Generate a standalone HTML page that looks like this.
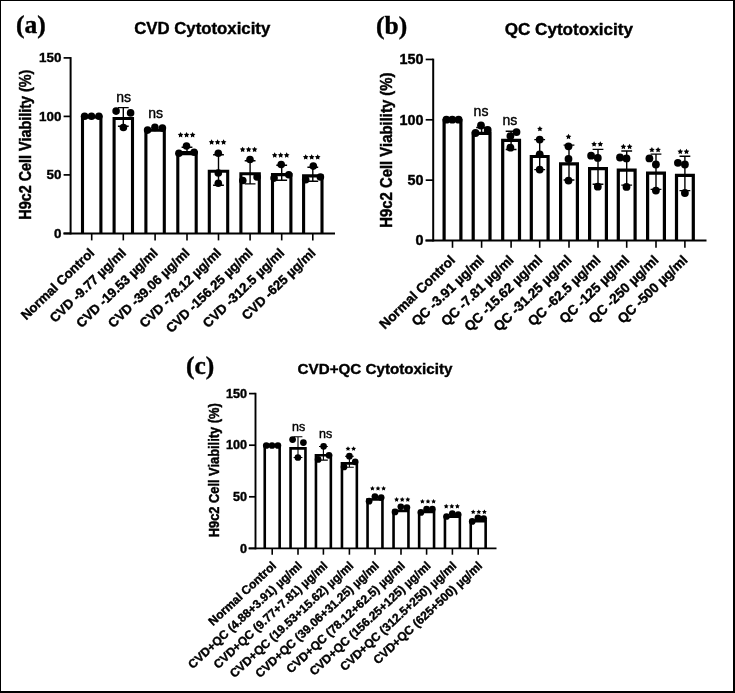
<!DOCTYPE html>
<html><head><meta charset="utf-8"><style>
html,body{margin:0;padding:0;background:#fff;}
#fig{position:relative;width:735px;height:693px;box-sizing:border-box;border-style:solid;border-color:#000;border-width:1px 2px 2px 1px;overflow:hidden;background:#fff;}
svg{position:absolute;left:-1px;top:-1px;will-change:transform;}
text{font-family:"Liberation Sans", sans-serif;fill:#000;stroke:#000;stroke-width:0.4px;}
</style></head><body><div id="fig"><svg width="735" height="693" viewBox="0 0 735 693">
<path d="M82.5 233.4V117H100.9V233.4" fill="#fff" stroke="#000" stroke-width="3.1" stroke-linejoin="miter"/>
<line x1="91.7" y1="233.4" x2="91.7" y2="240.4" stroke="#000" stroke-width="1.6"/>
<path d="M114.1 233.4V118.5H132.5V233.4" fill="#fff" stroke="#000" stroke-width="3.1" stroke-linejoin="miter"/>
<line x1="123.3" y1="233.4" x2="123.3" y2="240.4" stroke="#000" stroke-width="1.6"/>
<path d="M145.9 233.4V130.3H164.3V233.4" fill="#fff" stroke="#000" stroke-width="3.1" stroke-linejoin="miter"/>
<line x1="155.1" y1="233.4" x2="155.1" y2="240.4" stroke="#000" stroke-width="1.6"/>
<path d="M177.8 233.4V152.6H196.2V233.4" fill="#fff" stroke="#000" stroke-width="3.1" stroke-linejoin="miter"/>
<line x1="187" y1="233.4" x2="187" y2="240.4" stroke="#000" stroke-width="1.6"/>
<path d="M209.3 233.4V171.2H227.7V233.4" fill="#fff" stroke="#000" stroke-width="3.1" stroke-linejoin="miter"/>
<line x1="218.5" y1="233.4" x2="218.5" y2="240.4" stroke="#000" stroke-width="1.6"/>
<path d="M240.9 233.4V173.8H259.3V233.4" fill="#fff" stroke="#000" stroke-width="3.1" stroke-linejoin="miter"/>
<line x1="250.1" y1="233.4" x2="250.1" y2="240.4" stroke="#000" stroke-width="1.6"/>
<path d="M272.5 233.4V174.6H290.9V233.4" fill="#fff" stroke="#000" stroke-width="3.1" stroke-linejoin="miter"/>
<line x1="281.7" y1="233.4" x2="281.7" y2="240.4" stroke="#000" stroke-width="1.6"/>
<path d="M303.6 233.4V175.9H322V233.4" fill="#fff" stroke="#000" stroke-width="3.1" stroke-linejoin="miter"/>
<line x1="312.8" y1="233.4" x2="312.8" y2="240.4" stroke="#000" stroke-width="1.6"/>
<line x1="70.6" y1="234.4" x2="70.6" y2="57.1" stroke="#000" stroke-width="2.0"/>
<line x1="63.5" y1="233.4" x2="335" y2="233.4" stroke="#000" stroke-width="2.0"/>
<line x1="63.6" y1="233.4" x2="70.6" y2="233.4" stroke="#000" stroke-width="1.7"/>
<text x="61.4" y="237.8" text-anchor="end" font-weight="bold" font-size="13.4">0</text>
<line x1="63.6" y1="174.9" x2="70.6" y2="174.9" stroke="#000" stroke-width="1.7"/>
<text x="61.4" y="179.3" text-anchor="end" font-weight="bold" font-size="13.4">50</text>
<line x1="63.6" y1="116.4" x2="70.6" y2="116.4" stroke="#000" stroke-width="1.7"/>
<text x="61.4" y="120.8" text-anchor="end" font-weight="bold" font-size="13.4">100</text>
<line x1="63.6" y1="57.9" x2="70.6" y2="57.9" stroke="#000" stroke-width="1.7"/>
<text x="61.4" y="62.3" text-anchor="end" font-weight="bold" font-size="13.4">150</text>
<circle cx="84.6" cy="116.2" r="3.8"/>
<circle cx="91.5" cy="116.2" r="3.8"/>
<circle cx="98.9" cy="116.2" r="3.8"/>
<path d="M123.3 107.6V126.3M117.9 107.6H128.7M117.9 126.3H128.7" stroke="#000" stroke-width="1.4" fill="none"/>
<circle cx="116.1" cy="111.1" r="3.8"/>
<circle cx="130.6" cy="112.9" r="3.8"/>
<circle cx="123.4" cy="127.5" r="3.8"/>
<circle cx="147.6" cy="130.1" r="3.8"/>
<circle cx="154.9" cy="127.4" r="3.8"/>
<circle cx="162.4" cy="128.1" r="3.8"/>
<path d="M187 147.3V154.6M181.6 147.3H192.4M181.6 154.6H192.4" stroke="#000" stroke-width="1.4" fill="none"/>
<circle cx="178.9" cy="153.2" r="3.8"/>
<circle cx="186.5" cy="146" r="3.8"/>
<circle cx="194.1" cy="152.3" r="3.8"/>
<path d="M218.5 154.7V185.3M213.1 154.7H223.9M213.1 185.3H223.9" stroke="#000" stroke-width="1.4" fill="none"/>
<circle cx="218.3" cy="153.3" r="3.8"/>
<circle cx="218.3" cy="173" r="3.8"/>
<circle cx="218.3" cy="183.3" r="3.8"/>
<path d="M250.1 160.8V183.9M244.7 160.8H255.5M244.7 183.9H255.5" stroke="#000" stroke-width="1.4" fill="none"/>
<circle cx="250" cy="159.5" r="3.8"/>
<circle cx="242.8" cy="180.5" r="3.8"/>
<circle cx="257.1" cy="177" r="3.8"/>
<path d="M281.7 165.2V180.3M276.3 165.2H287.1M276.3 180.3H287.1" stroke="#000" stroke-width="1.4" fill="none"/>
<circle cx="281.2" cy="164.5" r="3.8"/>
<circle cx="274.1" cy="178.1" r="3.8"/>
<circle cx="288.8" cy="174.8" r="3.8"/>
<path d="M312.8 167.2V181.3M307.4 167.2H318.2M307.4 181.3H318.2" stroke="#000" stroke-width="1.4" fill="none"/>
<circle cx="313.3" cy="166.1" r="3.8"/>
<circle cx="305.7" cy="179.7" r="3.8"/>
<circle cx="320.4" cy="177" r="3.8"/>
<text x="123.7" y="102" text-anchor="middle" font-size="14">ns</text>
<text x="155.6" y="117.7" text-anchor="middle" font-size="14">ns</text>
<polygon points="180.6,132.04 181.5,133.75 183.41,134.08 182.06,135.47 182.33,137.38 180.6,136.53 178.87,137.38 179.14,135.47 177.79,134.08 179.7,133.75"/>
<polygon points="186.6,132.04 187.5,133.75 189.41,134.08 188.06,135.47 188.33,137.38 186.6,136.53 184.87,137.38 185.14,135.47 183.79,134.08 185.7,133.75"/>
<polygon points="192.6,132.04 193.5,133.75 195.41,134.08 194.06,135.47 194.33,137.38 192.6,136.53 190.87,137.38 191.14,135.47 189.79,134.08 191.7,133.75"/>
<polygon points="211.6,139.34 212.5,141.05 214.41,141.38 213.06,142.77 213.33,144.68 211.6,143.83 209.87,144.68 210.14,142.77 208.79,141.38 210.7,141.05"/>
<polygon points="217.6,139.34 218.5,141.05 220.41,141.38 219.06,142.77 219.33,144.68 217.6,143.83 215.87,144.68 216.14,142.77 214.79,141.38 216.7,141.05"/>
<polygon points="223.6,139.34 224.5,141.05 226.41,141.38 225.06,142.77 225.33,144.68 223.6,143.83 221.87,144.68 222.14,142.77 220.79,141.38 222.7,141.05"/>
<polygon points="242.6,146.65 243.5,148.35 245.41,148.68 244.06,150.07 244.33,151.98 242.6,151.13 240.87,151.98 241.14,150.07 239.79,148.68 241.7,148.35"/>
<polygon points="248.6,146.65 249.5,148.35 251.41,148.68 250.06,150.07 250.33,151.98 248.6,151.13 246.87,151.98 247.14,150.07 245.79,148.68 247.7,148.35"/>
<polygon points="254.6,146.65 255.5,148.35 257.41,148.68 256.06,150.07 256.33,151.98 254.6,151.13 252.87,151.98 253.14,150.07 251.79,148.68 253.7,148.35"/>
<polygon points="274.7,152.34 275.6,154.05 277.51,154.38 276.16,155.77 276.43,157.68 274.7,156.83 272.97,157.68 273.24,155.77 271.89,154.38 273.8,154.05"/>
<polygon points="280.7,152.34 281.6,154.05 283.51,154.38 282.16,155.77 282.43,157.68 280.7,156.83 278.97,157.68 279.24,155.77 277.89,154.38 279.8,154.05"/>
<polygon points="286.7,152.34 287.6,154.05 289.51,154.38 288.16,155.77 288.43,157.68 286.7,156.83 284.97,157.68 285.24,155.77 283.89,154.38 285.8,154.05"/>
<polygon points="305.7,154.25 306.6,155.95 308.51,156.28 307.16,157.67 307.43,159.58 305.7,158.73 303.97,159.58 304.24,157.67 302.89,156.28 304.8,155.95"/>
<polygon points="311.7,154.25 312.6,155.95 314.51,156.28 313.16,157.67 313.43,159.58 311.7,158.73 309.97,159.58 310.24,157.67 308.89,156.28 310.8,155.95"/>
<polygon points="317.7,154.25 318.6,155.95 320.51,156.28 319.16,157.67 319.43,159.58 317.7,158.73 315.97,159.58 316.24,157.67 314.89,156.28 316.8,155.95"/>
<text transform="translate(95.2 253.9) rotate(-44)" text-anchor="end" font-weight="bold" font-size="13.2">Normal Control</text>
<text transform="translate(126.8 253.9) rotate(-44)" text-anchor="end" font-weight="bold" font-size="13.2">CVD -9.77 µg/ml</text>
<text transform="translate(158.6 253.9) rotate(-44)" text-anchor="end" font-weight="bold" font-size="13.2">CVD -19.53 µg/ml</text>
<text transform="translate(190.5 253.9) rotate(-44)" text-anchor="end" font-weight="bold" font-size="13.2">CVD -39.06 µg/ml</text>
<text transform="translate(222 253.9) rotate(-44)" text-anchor="end" font-weight="bold" font-size="13.2">CVD -78.12 µg/ml</text>
<text transform="translate(253.6 253.9) rotate(-44)" text-anchor="end" font-weight="bold" font-size="13.2">CVD -156.25 µg/ml</text>
<text transform="translate(285.2 253.9) rotate(-44)" text-anchor="end" font-weight="bold" font-size="13.2">CVD -312.5 µg/ml</text>
<text transform="translate(316.3 253.9) rotate(-44)" text-anchor="end" font-weight="bold" font-size="13.2">CVD -625 µg/ml</text>
<text x="202.2" y="34.3" text-anchor="middle" font-weight="bold" font-size="16.8">CVD Cytotoxicity</text>
<text x="16" y="33" style='font-family:"Liberation Serif", serif' font-weight="bold" font-size="25.5">(a)</text>
<text transform="translate(31 144.65) scale(1.1 1) rotate(-90)" text-anchor="middle" font-weight="bold" font-size="14.4">H9c2 Cell Viability (%)</text>
<path d="M444.1 240.5V120.5H460.9V240.5" fill="#fff" stroke="#000" stroke-width="3.2" stroke-linejoin="miter"/>
<line x1="452.5" y1="240.5" x2="452.5" y2="247.8" stroke="#000" stroke-width="1.6"/>
<path d="M473.2 240.5V133.4H490V240.5" fill="#fff" stroke="#000" stroke-width="3.2" stroke-linejoin="miter"/>
<line x1="481.6" y1="240.5" x2="481.6" y2="247.8" stroke="#000" stroke-width="1.6"/>
<path d="M502.7 240.5V140.4H519.5V240.5" fill="#fff" stroke="#000" stroke-width="3.2" stroke-linejoin="miter"/>
<line x1="511.1" y1="240.5" x2="511.1" y2="247.8" stroke="#000" stroke-width="1.6"/>
<path d="M531.3 240.5V156.5H548.1V240.5" fill="#fff" stroke="#000" stroke-width="3.2" stroke-linejoin="miter"/>
<line x1="539.7" y1="240.5" x2="539.7" y2="247.8" stroke="#000" stroke-width="1.6"/>
<path d="M560.6 240.5V163.8H577.4V240.5" fill="#fff" stroke="#000" stroke-width="3.2" stroke-linejoin="miter"/>
<line x1="569" y1="240.5" x2="569" y2="247.8" stroke="#000" stroke-width="1.6"/>
<path d="M589.6 240.5V168.7H606.4V240.5" fill="#fff" stroke="#000" stroke-width="3.2" stroke-linejoin="miter"/>
<line x1="598" y1="240.5" x2="598" y2="247.8" stroke="#000" stroke-width="1.6"/>
<path d="M618.3 240.5V170.2H635.1V240.5" fill="#fff" stroke="#000" stroke-width="3.2" stroke-linejoin="miter"/>
<line x1="626.7" y1="240.5" x2="626.7" y2="247.8" stroke="#000" stroke-width="1.6"/>
<path d="M647.6 240.5V173.2H664.4V240.5" fill="#fff" stroke="#000" stroke-width="3.2" stroke-linejoin="miter"/>
<line x1="656" y1="240.5" x2="656" y2="247.8" stroke="#000" stroke-width="1.6"/>
<path d="M676.5 240.5V175.3H693.3V240.5" fill="#fff" stroke="#000" stroke-width="3.2" stroke-linejoin="miter"/>
<line x1="684.9" y1="240.5" x2="684.9" y2="247.8" stroke="#000" stroke-width="1.6"/>
<line x1="433.2" y1="241.5" x2="433.2" y2="58.65" stroke="#000" stroke-width="2.0"/>
<line x1="425.5" y1="240.5" x2="706.5" y2="240.5" stroke="#000" stroke-width="2.0"/>
<line x1="425.7" y1="240.5" x2="433.2" y2="240.5" stroke="#000" stroke-width="1.7"/>
<text x="423.5" y="245.26" text-anchor="end" font-weight="bold" font-size="14.4">0</text>
<line x1="425.7" y1="180.15" x2="433.2" y2="180.15" stroke="#000" stroke-width="1.7"/>
<text x="423.5" y="184.91" text-anchor="end" font-weight="bold" font-size="14.4">50</text>
<line x1="425.7" y1="119.8" x2="433.2" y2="119.8" stroke="#000" stroke-width="1.7"/>
<text x="423.5" y="124.56" text-anchor="end" font-weight="bold" font-size="14.4">100</text>
<line x1="425.7" y1="59.45" x2="433.2" y2="59.45" stroke="#000" stroke-width="1.7"/>
<text x="423.5" y="64.21" text-anchor="end" font-weight="bold" font-size="14.4">150</text>
<circle cx="446.4" cy="119.7" r="3.9"/>
<circle cx="452.3" cy="119.7" r="3.9"/>
<circle cx="458.6" cy="119.7" r="3.9"/>
<path d="M481.6 127.5V133.5M476.2 127.5H487M476.2 133.5H487" stroke="#000" stroke-width="1.4" fill="none"/>
<circle cx="481" cy="125.5" r="3.9"/>
<circle cx="475.5" cy="133" r="3.9"/>
<circle cx="487.7" cy="130" r="3.9"/>
<path d="M511.1 131.2V149.5M505.7 131.2H516.5M505.7 149.5H516.5" stroke="#000" stroke-width="1.4" fill="none"/>
<circle cx="516.5" cy="132.1" r="3.9"/>
<circle cx="510.4" cy="136.1" r="3.9"/>
<circle cx="510.4" cy="147.7" r="3.9"/>
<path d="M539.7 139.6V169.6M534.3 139.6H545.1M534.3 169.6H545.1" stroke="#000" stroke-width="1.4" fill="none"/>
<circle cx="539.7" cy="139.6" r="3.9"/>
<circle cx="539.7" cy="154.3" r="3.9"/>
<circle cx="539.7" cy="169.6" r="3.9"/>
<path d="M569 145.1V180M563.6 145.1H574.4M563.6 180H574.4" stroke="#000" stroke-width="1.4" fill="none"/>
<circle cx="568.5" cy="146.3" r="3.9"/>
<circle cx="568.5" cy="158.9" r="3.9"/>
<circle cx="568.5" cy="180.6" r="3.9"/>
<path d="M598 149.4V184.3M592.6 149.4H603.4M592.6 184.3H603.4" stroke="#000" stroke-width="1.4" fill="none"/>
<circle cx="591.1" cy="155.7" r="3.9"/>
<circle cx="597.8" cy="157.9" r="3.9"/>
<circle cx="597.8" cy="186.7" r="3.9"/>
<path d="M626.7 151V185.1M621.3 151H632.1M621.3 185.1H632.1" stroke="#000" stroke-width="1.4" fill="none"/>
<circle cx="620" cy="157.5" r="3.9"/>
<circle cx="626.5" cy="158.4" r="3.9"/>
<circle cx="626.5" cy="186.9" r="3.9"/>
<path d="M656 154.1V189.4M650.6 154.1H661.4M650.6 189.4H661.4" stroke="#000" stroke-width="1.4" fill="none"/>
<circle cx="649.4" cy="158.4" r="3.9"/>
<circle cx="655.9" cy="164.5" r="3.9"/>
<circle cx="655.9" cy="190.6" r="3.9"/>
<path d="M684.9 156.3V190.6M679.5 156.3H690.3M679.5 190.6H690.3" stroke="#000" stroke-width="1.4" fill="none"/>
<circle cx="677.9" cy="162.8" r="3.9"/>
<circle cx="684.9" cy="164.5" r="3.9"/>
<circle cx="684.9" cy="193" r="3.9"/>
<text x="481" y="115.9" text-anchor="middle" font-size="14">ns</text>
<text x="509.8" y="125" text-anchor="middle" font-size="14">ns</text>
<polygon points="539.9,125.94 540.8,127.65 542.71,127.98 541.36,129.37 541.63,131.28 539.9,130.43 538.17,131.28 538.44,129.37 537.09,127.98 539,127.65"/>
<polygon points="568.5,133.84 569.4,135.55 571.31,135.88 569.96,137.27 570.23,139.18 568.5,138.33 566.77,139.18 567.04,137.27 565.69,135.88 567.6,135.55"/>
<polygon points="594.1,141.25 595,142.95 596.91,143.28 595.56,144.67 595.83,146.58 594.1,145.73 592.37,146.58 592.64,144.67 591.29,143.28 593.2,142.95"/>
<polygon points="600.3,141.25 601.2,142.95 603.11,143.28 601.76,144.67 602.03,146.58 600.3,145.73 598.57,146.58 598.84,144.67 597.49,143.28 599.4,142.95"/>
<polygon points="623.4,143.84 624.3,145.55 626.21,145.88 624.86,147.27 625.13,149.18 623.4,148.33 621.67,149.18 621.94,147.27 620.59,145.88 622.5,145.55"/>
<polygon points="629.6,143.84 630.5,145.55 632.41,145.88 631.06,147.27 631.33,149.18 629.6,148.33 627.87,149.18 628.14,147.27 626.79,145.88 628.7,145.55"/>
<polygon points="651.9,146.94 652.8,148.65 654.71,148.98 653.36,150.37 653.63,152.28 651.9,151.43 650.17,152.28 650.44,150.37 649.09,148.98 651,148.65"/>
<polygon points="658.1,146.94 659,148.65 660.91,148.98 659.56,150.37 659.83,152.28 658.1,151.43 656.37,152.28 656.64,150.37 655.29,148.98 657.2,148.65"/>
<polygon points="680.3,148.75 681.2,150.45 683.11,150.78 681.76,152.17 682.03,154.08 680.3,153.23 678.57,154.08 678.84,152.17 677.49,150.78 679.4,150.45"/>
<polygon points="686.5,148.75 687.4,150.45 689.31,150.78 687.96,152.17 688.23,154.08 686.5,153.23 684.77,154.08 685.04,152.17 683.69,150.78 685.6,150.45"/>
<text transform="translate(456 261) rotate(-44)" text-anchor="end" font-weight="bold" font-size="13.6">Normal Control</text>
<text transform="translate(485.1 261) rotate(-44)" text-anchor="end" font-weight="bold" font-size="13.6">QC -3.91 µg/ml</text>
<text transform="translate(514.6 261) rotate(-44)" text-anchor="end" font-weight="bold" font-size="13.6">QC -7.81 µg/ml</text>
<text transform="translate(543.2 261) rotate(-44)" text-anchor="end" font-weight="bold" font-size="13.6">QC -15.62 µg/ml</text>
<text transform="translate(572.5 261) rotate(-44)" text-anchor="end" font-weight="bold" font-size="13.6">QC -31.25 µg/ml</text>
<text transform="translate(601.5 261) rotate(-44)" text-anchor="end" font-weight="bold" font-size="13.6">QC -62.5 µg/ml</text>
<text transform="translate(630.2 261) rotate(-44)" text-anchor="end" font-weight="bold" font-size="13.6">QC -125 µg/ml</text>
<text transform="translate(659.5 261) rotate(-44)" text-anchor="end" font-weight="bold" font-size="13.6">QC -250 µg/ml</text>
<text transform="translate(688.4 261) rotate(-44)" text-anchor="end" font-weight="bold" font-size="13.6">QC -500 µg/ml</text>
<text x="568.8" y="35" text-anchor="middle" font-weight="bold" font-size="17.1">QC Cytotoxicity</text>
<text x="376" y="34.3" style='font-family:"Liberation Serif", serif' font-weight="bold" font-size="25.5">(b)</text>
<text transform="translate(392.1 150.2) scale(1.1 1) rotate(-90)" text-anchor="middle" font-weight="bold" font-size="14.9">H9c2 Cell Viability (%)</text>
<path d="M264.75 548.4V445.3H279.65V548.4" fill="#fff" stroke="#000" stroke-width="2.6" stroke-linejoin="miter"/>
<line x1="272.2" y1="548.4" x2="272.2" y2="554.7" stroke="#000" stroke-width="1.6"/>
<path d="M290.55 548.4V448.4H305.45V548.4" fill="#fff" stroke="#000" stroke-width="2.6" stroke-linejoin="miter"/>
<line x1="298" y1="548.4" x2="298" y2="554.7" stroke="#000" stroke-width="1.6"/>
<path d="M315.95 548.4V455.2H330.85V548.4" fill="#fff" stroke="#000" stroke-width="2.6" stroke-linejoin="miter"/>
<line x1="323.4" y1="548.4" x2="323.4" y2="554.7" stroke="#000" stroke-width="1.6"/>
<path d="M341.95 548.4V463.4H356.85V548.4" fill="#fff" stroke="#000" stroke-width="2.6" stroke-linejoin="miter"/>
<line x1="349.4" y1="548.4" x2="349.4" y2="554.7" stroke="#000" stroke-width="1.6"/>
<path d="M367.55 548.4V499.5H382.45V548.4" fill="#fff" stroke="#000" stroke-width="2.6" stroke-linejoin="miter"/>
<line x1="375" y1="548.4" x2="375" y2="554.7" stroke="#000" stroke-width="1.6"/>
<path d="M393.55 548.4V510.9H408.45V548.4" fill="#fff" stroke="#000" stroke-width="2.6" stroke-linejoin="miter"/>
<line x1="401" y1="548.4" x2="401" y2="554.7" stroke="#000" stroke-width="1.6"/>
<path d="M419.15 548.4V512H434.05V548.4" fill="#fff" stroke="#000" stroke-width="2.6" stroke-linejoin="miter"/>
<line x1="426.6" y1="548.4" x2="426.6" y2="554.7" stroke="#000" stroke-width="1.6"/>
<path d="M444.95 548.4V516.7H459.85V548.4" fill="#fff" stroke="#000" stroke-width="2.6" stroke-linejoin="miter"/>
<line x1="452.4" y1="548.4" x2="452.4" y2="554.7" stroke="#000" stroke-width="1.6"/>
<path d="M470.75 548.4V521.1H485.65V548.4" fill="#fff" stroke="#000" stroke-width="2.6" stroke-linejoin="miter"/>
<line x1="478.2" y1="548.4" x2="478.2" y2="554.7" stroke="#000" stroke-width="1.6"/>
<line x1="255.5" y1="549.35" x2="255.5" y2="392.8" stroke="#000" stroke-width="1.9"/>
<line x1="248.5" y1="548.4" x2="496.5" y2="548.4" stroke="#000" stroke-width="1.9"/>
<line x1="249" y1="548.4" x2="255.5" y2="548.4" stroke="#000" stroke-width="1.7"/>
<text x="247" y="552.51" text-anchor="end" font-weight="bold" font-size="12.6">0</text>
<line x1="249" y1="496.8" x2="255.5" y2="496.8" stroke="#000" stroke-width="1.7"/>
<text x="247" y="500.91" text-anchor="end" font-weight="bold" font-size="12.6">50</text>
<line x1="249" y1="445.2" x2="255.5" y2="445.2" stroke="#000" stroke-width="1.7"/>
<text x="247" y="449.31" text-anchor="end" font-weight="bold" font-size="12.6">100</text>
<line x1="249" y1="393.6" x2="255.5" y2="393.6" stroke="#000" stroke-width="1.7"/>
<text x="247" y="397.71" text-anchor="end" font-weight="bold" font-size="12.6">150</text>
<circle cx="266.3" cy="445.5" r="3.35"/>
<circle cx="272" cy="445.5" r="3.35"/>
<circle cx="277.9" cy="445.5" r="3.35"/>
<path d="M298 436.8V457.5M293.6 436.8H302.4M293.6 457.5H302.4" stroke="#000" stroke-width="1.1" fill="none"/>
<circle cx="292.6" cy="439.6" r="3.35"/>
<circle cx="303.4" cy="442.6" r="3.35"/>
<circle cx="297.9" cy="457.5" r="3.35"/>
<path d="M323.4 446.5V460.1M319 446.5H327.8M319 460.1H327.8" stroke="#000" stroke-width="1.1" fill="none"/>
<circle cx="323.6" cy="446.3" r="3.35"/>
<circle cx="329" cy="455.3" r="3.35"/>
<circle cx="318.1" cy="459.4" r="3.35"/>
<path d="M349.4 456.2V467.2M345 456.2H353.8M345 467.2H353.8" stroke="#000" stroke-width="1.1" fill="none"/>
<circle cx="349.4" cy="456.2" r="3.35"/>
<circle cx="355.2" cy="461.8" r="3.35"/>
<circle cx="344" cy="466.9" r="3.35"/>
<circle cx="369.1" cy="501.2" r="3.35"/>
<circle cx="374.9" cy="496.6" r="3.35"/>
<circle cx="381.2" cy="497.5" r="3.35"/>
<circle cx="395" cy="511.9" r="3.35"/>
<circle cx="400.8" cy="506.8" r="3.35"/>
<circle cx="406.9" cy="507.5" r="3.35"/>
<circle cx="420.9" cy="512.4" r="3.35"/>
<circle cx="426.6" cy="509.2" r="3.35"/>
<circle cx="432.4" cy="509.2" r="3.35"/>
<circle cx="446.5" cy="516.5" r="3.35"/>
<circle cx="452.3" cy="513.5" r="3.35"/>
<circle cx="458.2" cy="514.6" r="3.35"/>
<circle cx="472.2" cy="521.4" r="3.35"/>
<circle cx="477.9" cy="517.9" r="3.35"/>
<circle cx="483.7" cy="518.5" r="3.35"/>
<text x="298.6" y="430.7" text-anchor="middle" font-size="12.5">ns</text>
<text x="325.6" y="438.1" text-anchor="middle" font-size="12.5">ns</text>
<polygon points="348,446.2 348.78,447.68 350.43,447.97 349.26,449.16 349.5,450.82 348,450.08 346.5,450.82 346.74,449.16 345.57,447.97 347.22,447.68"/>
<polygon points="353.6,446.2 354.38,447.68 356.03,447.97 354.86,449.16 355.1,450.82 353.6,450.08 352.1,450.82 352.34,449.16 351.17,447.97 352.82,447.68"/>
<polygon points="372.4,485.9 373.18,487.38 374.83,487.67 373.66,488.86 373.9,490.52 372.4,489.78 370.9,490.52 371.14,488.86 369.97,487.67 371.62,487.38"/>
<polygon points="378,485.9 378.78,487.38 380.43,487.67 379.26,488.86 379.5,490.52 378,489.78 376.5,490.52 376.74,488.86 375.57,487.67 377.22,487.38"/>
<polygon points="383.6,485.9 384.38,487.38 386.03,487.67 384.86,488.86 385.1,490.52 383.6,489.78 382.1,490.52 382.34,488.86 381.17,487.67 382.82,487.38"/>
<polygon points="396.6,497.1 397.38,498.58 399.03,498.87 397.86,500.06 398.1,501.72 396.6,500.98 395.1,501.72 395.34,500.06 394.17,498.87 395.82,498.58"/>
<polygon points="402.2,497.1 402.98,498.58 404.63,498.87 403.46,500.06 403.7,501.72 402.2,500.98 400.7,501.72 400.94,500.06 399.77,498.87 401.42,498.58"/>
<polygon points="407.8,497.1 408.58,498.58 410.23,498.87 409.06,500.06 409.3,501.72 407.8,500.98 406.3,501.72 406.54,500.06 405.37,498.87 407.02,498.58"/>
<polygon points="422.4,498.9 423.18,500.38 424.83,500.67 423.66,501.86 423.9,503.52 422.4,502.78 420.9,503.52 421.14,501.86 419.97,500.67 421.62,500.38"/>
<polygon points="428,498.9 428.78,500.38 430.43,500.67 429.26,501.86 429.5,503.52 428,502.78 426.5,503.52 426.74,501.86 425.57,500.67 427.22,500.38"/>
<polygon points="433.6,498.9 434.38,500.38 436.03,500.67 434.86,501.86 435.1,503.52 433.6,502.78 432.1,503.52 432.34,501.86 431.17,500.67 432.82,500.38"/>
<polygon points="446.2,503.81 446.98,505.28 448.63,505.57 447.46,506.76 447.7,508.42 446.2,507.68 444.7,508.42 444.94,506.76 443.77,505.57 445.42,505.28"/>
<polygon points="451.8,503.81 452.58,505.28 454.23,505.57 453.06,506.76 453.3,508.42 451.8,507.68 450.3,508.42 450.54,506.76 449.37,505.57 451.02,505.28"/>
<polygon points="457.4,503.81 458.18,505.28 459.83,505.57 458.66,506.76 458.9,508.42 457.4,507.68 455.9,508.42 456.14,506.76 454.97,505.57 456.62,505.28"/>
<polygon points="473.2,509.4 473.98,510.88 475.63,511.17 474.46,512.36 474.7,514.02 473.2,513.28 471.7,514.02 471.94,512.36 470.77,511.17 472.42,510.88"/>
<polygon points="478.8,509.4 479.58,510.88 481.23,511.17 480.06,512.36 480.3,514.02 478.8,513.28 477.3,514.02 477.54,512.36 476.37,511.17 478.02,510.88"/>
<polygon points="484.4,509.4 485.18,510.88 486.83,511.17 485.66,512.36 485.9,514.02 484.4,513.28 482.9,514.02 483.14,512.36 481.97,511.17 483.62,510.88"/>
<text transform="translate(277 566.7) rotate(-43)" text-anchor="end" font-weight="bold" font-size="12">Normal Control</text>
<text transform="translate(302.8 566.7) rotate(-43)" text-anchor="end" font-weight="bold" font-size="12">CVD+QC (4.88+3.91) µg/ml</text>
<text transform="translate(328.2 566.7) rotate(-43)" text-anchor="end" font-weight="bold" font-size="12">CVD+QC (9.77+7.81) µg/ml</text>
<text transform="translate(354.2 566.7) rotate(-43)" text-anchor="end" font-weight="bold" font-size="12">CVD+QC (19.53+15.62) µg/ml</text>
<text transform="translate(379.8 566.7) rotate(-43)" text-anchor="end" font-weight="bold" font-size="12">CVD+QC (39.06+31.25) µg/ml</text>
<text transform="translate(405.8 566.7) rotate(-43)" text-anchor="end" font-weight="bold" font-size="12">CVD+QC (78.12+62.5) µg/ml</text>
<text transform="translate(431.4 566.7) rotate(-43)" text-anchor="end" font-weight="bold" font-size="12">CVD+QC (156.25+125) µg/ml</text>
<text transform="translate(457.2 566.7) rotate(-43)" text-anchor="end" font-weight="bold" font-size="12">CVD+QC (312.5+250) µg/ml</text>
<text transform="translate(483 566.7) rotate(-43)" text-anchor="end" font-weight="bold" font-size="12">CVD+QC (625+500) µg/ml</text>
<text x="375" y="373.5" text-anchor="middle" font-weight="bold" font-size="15.2">CVD+QC Cytotoxicity</text>
<text x="186" y="373.8" style='font-family:"Liberation Serif", serif' font-weight="bold" font-size="25.5">(c)</text>
<text transform="translate(218.7 470.3) scale(1.1 1) rotate(-90)" text-anchor="middle" font-weight="bold" font-size="12.85">H9c2 Cell Viability (%)</text>
</svg></div></body></html>
